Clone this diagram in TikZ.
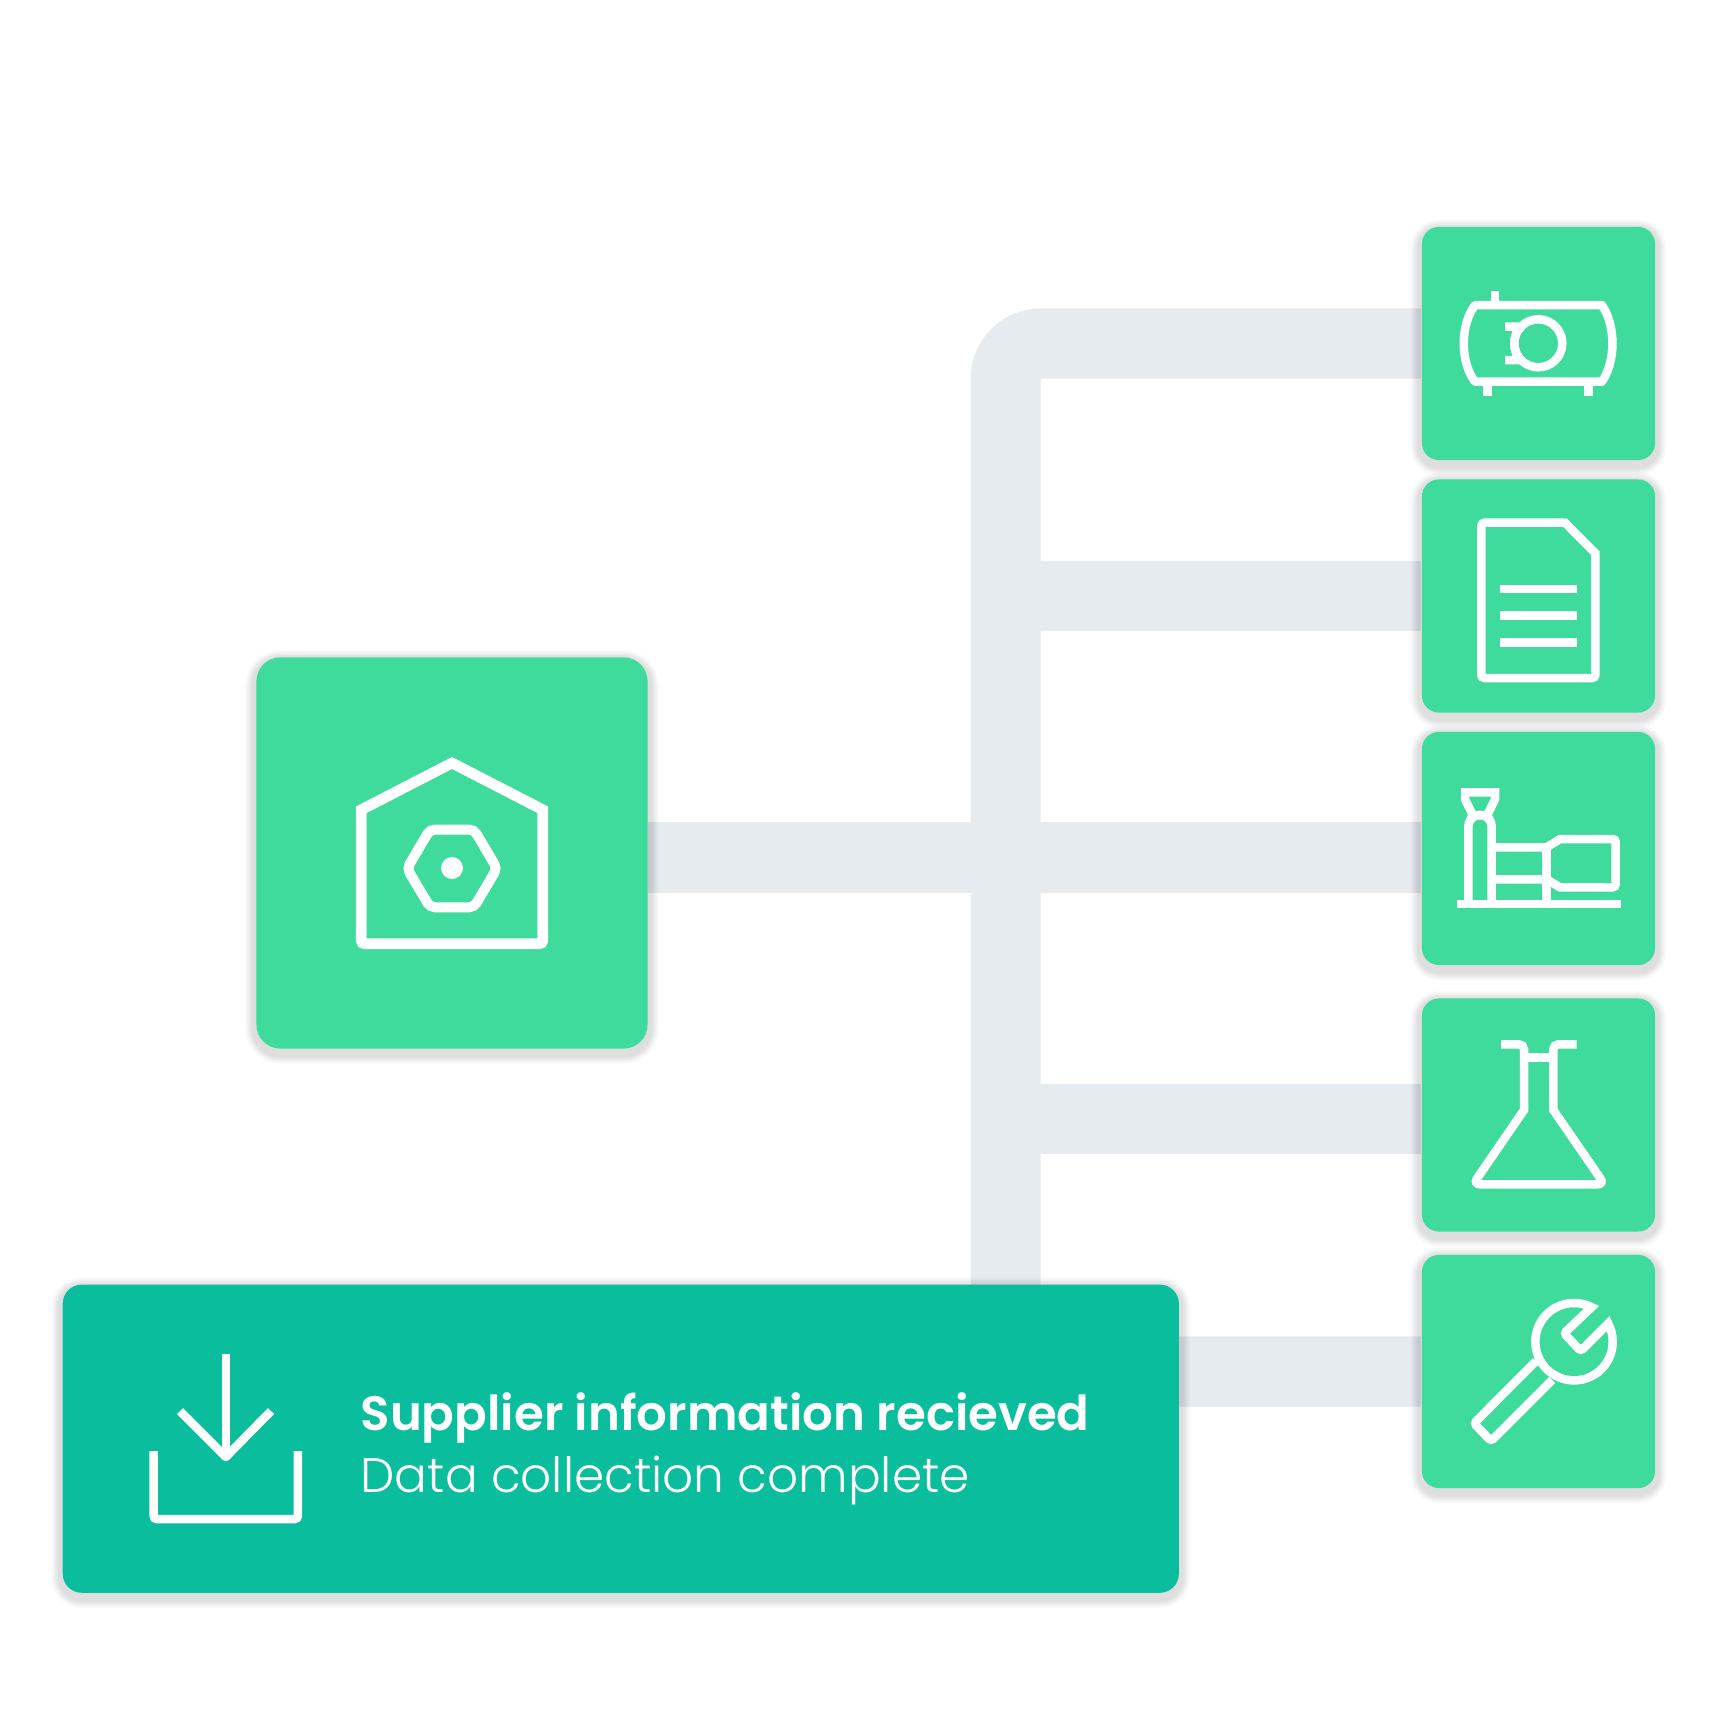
\documentclass[tikz,border=0pt]{standalone}
\usepackage{fontspec}
\usepackage{xcolor}
\usepackage{tikz}
\usetikzlibrary{backgrounds,shadows}
\newfontfamily\titlefont{Poppins SemiBold}
\newfontfamily\subtitlefont{Poppins Light}
\definecolor{tilegreen}{HTML}{3EDB9D}
\definecolor{bannergreen}{HTML}{0ABE9D}
\definecolor{busgray}{HTML}{E6EBEF}
\tikzset{
  softlayer/.style={general shadow={shadow yshift=-0.04cm,draw=black,fill=none,draw opacity=0.028,line width=#1}},
  softshadow/.style={softlayer=0.22cm,softlayer=0.18cm,softlayer=0.15cm,softlayer=0.12cm,softlayer=0.09cm},
  tile/.style={fill=tilegreen,rounded corners=0.17cm,minimum size=2.33cm,inner sep=0pt,softshadow},
  hubtile/.style={fill=tilegreen,rounded corners=0.24cm,minimum size=3.91cm,inner sep=0pt,softshadow},
  bus/.style={draw=busgray,line width=0.7cm},
  icon/.style={draw=white,line width=0.085cm},
  caption/.style={text=white,anchor=base west,inner sep=0pt}
}
\begin{document}
\begin{tikzpicture}[x=0.01cm,y=-0.01cm]
\useasboundingbox (0,0) rectangle (1727,1727);
\node[hubtile] (hub) at (452,853) {};
\node[tile] (tank) at (1538.5,343.5) {};
\node[tile] (document) at (1538.5,596) {};
\node[tile] (plant) at (1538.5,848.5) {};
\node[tile] (flask) at (1538.5,1115) {};
\node[tile] (wrench) at (1538.5,1371.5) {};
\coordinate (trunk) at (1005.7,343.5);
\coordinate (plantbus) at (1005.7,857.5);
\coordinate (flaskbus) at (1005.7,1119);
\begin{scope}[on background layer]
\draw[bus,rounded corners=0.35cm] (tank.west) -- (trunk) -- (trunk |- wrench.west) -- (wrench.west);
\draw[bus] (document.west) -- (document.west -| trunk);
\draw[bus] (hub.east |- plantbus) -- (plant.west |- plantbus);
\draw[bus] (flask.west |- flaskbus) -- (flaskbus);
\end{scope}
\node[fill=bannergreen,rounded corners=0.19cm,minimum width=11.155cm,minimum height=3.08cm,inner sep=0pt,softshadow] (banner) at (620.8,1438.7) {};
\node[caption,font=\titlefont\fontsize{13.72pt}{16pt}\selectfont] (title) at (360,1430) {Supplier information recieved};
\node[caption,font=\subtitlefont\fontsize{13.8pt}{16pt}\selectfont] (subtitle) at (360,1492.7) {Data collection complete};
\draw[icon,line width=0.107cm] (452,763) -- (542.7,809.7) [rounded corners=0.03cm] -- (542.7,943.7) -- (361.3,943.7) [sharp corners] -- (361.3,809.7) -- cycle;
\draw[icon,line width=0.1cm,rounded corners=0.05cm] (430,829.5) -- (474,829.5) -- (497,868.4) -- (474,907.3) -- (430,907.3) -- (407,868.4) -- cycle;
\fill[white] (452,868) circle (11);
\draw[icon] (1495,290.7) -- (1495,305);
\draw[icon] (1487.7,381.7) -- (1487.7,395.7);
\draw[icon] (1588.7,381.7) -- (1588.7,395.7);
\draw[icon,line join=round] (1475,305) -- (1601.7,305) .. controls (1616,325) and (1616,362) .. (1601.7,381.7) -- (1475,381.7) .. controls (1460,362) and (1460,325) .. (1475,305) -- cycle;
\draw[icon] (1538.3,343.3) circle (24);
\draw[icon] (1505,326.7) -- (1521,326.7) .. controls (1512,335) and (1512,352) .. (1521,360) -- (1505,360);
\draw[icon] (1565,522.7) -- (1595.3,553.3) [rounded corners=0.03cm] -- (1595.3,678) -- (1481.3,678) -- (1481.3,522.7) [sharp corners] -- cycle;
\foreach \y in {589,615.7,642.3}
  \draw[icon] (1500,\y) -- (1576.7,\y);
\draw[icon] (1457,904) -- (1620.7,904);
\draw[icon] (1465,799.3) -- (1465,792.3) -- (1495,792.3) -- (1495,799.3) -- (1487.3,815) -- (1472.7,815) -- cycle;
\draw[icon] (1468.3,904) -- (1468.3,826.7) arc[start angle=180,end angle=360,x radius=11.7,y radius=11.7] -- (1491.7,904);
\draw[icon] (1472.7,815) -- (1468.3,824) (1487.3,815) -- (1491.7,824);
\draw[icon] (1491.7,847.3) -- (1546.7,847.3) -- (1560,839) [rounded corners=0.03cm] -- (1615.7,839) -- (1615.7,887.3) [sharp corners] -- (1560,887.3) -- (1546.7,879.3) -- (1491.7,879.3);
\draw[icon] (1546.7,847.3) -- (1546.7,904);
\draw[icon] (1501,1044.3) [rounded corners=0.05cm] -- (1524,1044.3) [sharp corners] -- (1524,1110) [rounded corners=0.07cm] -- (1473,1184.3) -- (1604.5,1184.3) [sharp corners] -- (1553.3,1110) [rounded corners=0.05cm] -- (1553.3,1044.3) -- (1576.7,1044.3);
\draw[icon] (1524,1057.7) -- (1553.3,1057.7);
\draw[icon] (1591.6,1307.2) arc[start angle=-63,end angle=-388,x radius=38.7,y radius=38.7] [rounded corners=0.03cm] -- (1580.7,1351) -- (1564,1333.3) [sharp corners] -- cycle;
\draw[icon,rounded corners=0.03cm] (1536,1361) -- (1474,1423.3) -- (1491,1441) -- (1552,1380);
\draw[icon,line join=round] (180,1411) -- (225.8,1457) -- (271,1411);
\draw[icon] (225.8,1354) -- (225.8,1457);
\draw[icon,rounded corners=0.03cm] (153.7,1451) -- (153.7,1519) -- (297.8,1519) -- (297.8,1451);
\end{tikzpicture}
\end{document}
